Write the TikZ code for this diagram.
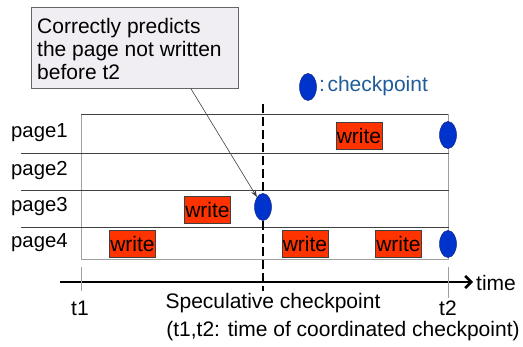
\documentclass[tikz,border=0pt]{standalone}
\usepackage{fontspec}
\setmainfont{Liberation Sans}
\usetikzlibrary{arrows.meta,shapes.geometric,calc}
\definecolor{cpblue}{HTML}{0033CC}
\definecolor{cpedge}{HTML}{1A2A80}
\definecolor{writered}{HTML}{FF3300}
\definecolor{legendblue}{HTML}{1F5C99}
\definecolor{notefill}{HTML}{F1EEF3}
\definecolor{rowline}{HTML}{404040}
\definecolor{frameline}{HTML}{A0A0A0}
\tikzset{
  txt/.style={font=\fontsize{21}{22.8}\selectfont, inner sep=0pt},
  writebox/.style={draw=rowline, line width=0.6pt, fill=writered, minimum width=46pt,
    minimum height=27pt, inner sep=0pt, font=\fontsize{21}{22.8}\selectfont},
  cpoint/.style={ellipse, draw=cpedge, line width=0.5pt, fill=cpblue,
    minimum width=17pt, minimum height=27pt, inner sep=0pt},
  sep/.style={draw=rowline, line width=0.8pt},
  frame/.style={draw=frameline, line width=1pt},
  pagelabel/.style={font=\fontsize{20.3}{22.8}\selectfont, inner sep=0pt, anchor=mid west},
}
\begin{document}
\begin{tikzpicture}[x=1pt,y=-1pt]
\useasboundingbox (0,0) rectangle (523,347);

% callout note
\node[draw=rowline!80, line width=0.6pt, fill=notefill, anchor=north west,
  minimum width=207pt, minimum height=81pt, inner sep=0pt] (note) at (31,7) {};
\node[txt, align=left, anchor=north west] (notetext) at (37,18)
  {Correctly predicts\\the page not written\\before t2};

% legend
\node[cpoint] (legcp) at (308,87) {};
\node[txt, anchor=west, text=legendblue] (legtext) at (319,86) {:\kern2.5pt checkpoint};

% frame of the page rows
\coordinate (tl) at (81,114);
\coordinate (tr) at (448,114);
\coordinate (bl) at (81,260);
\coordinate (br) at (448,260);
\draw[frame] (tl) -- (bl);
\draw[frame] (tr) -- (br);
\draw[frame] (bl) -- (br);
\draw[sep] (tl) -- (tr);
\coordinate (s1l) at (21,153); \coordinate (s1r) at (449,153);
\coordinate (s2l) at (21,190); \coordinate (s2r) at (449,190);
\coordinate (s3l) at (21,227); \coordinate (s3r) at (449,227);
\draw[sep] (s1l) -- (s1r);
\draw[sep] (s2l) -- (s2r);
\draw[sep] (s3l) -- (s3r);

% page labels
\node[pagelabel] (p1) at (11,135) {page1};
\node[pagelabel] (p2) at (11,173) {page2};
\node[pagelabel] (p3) at (11,209) {page3};
\node[pagelabel] (p4) at (11,245) {page4};

% speculative checkpoint line
\coordinate (spectop) at (263,104);
\coordinate (specbot) at (263,291);
\draw[line width=2pt, dash pattern=on 9pt off 4pt] (spectop) -- (specbot);

% time axis with ticks
\coordinate (axl) at (60,282);
\coordinate (axr) at (473,282);
\draw[line width=2.6pt, -{Straight Barb[length=6pt,width=12pt,line width=2.6pt]}] (axl) -- (axr);
\node[txt, anchor=west] (timelabel) at (476,283) {time};
\coordinate (t1top) at (81,267); \coordinate (t1bot) at (81,291);
\coordinate (t2top) at (448,267); \coordinate (t2bot) at (448,298);
\draw[frame] (t1top) -- (t1bot);
\draw[frame] (t2top) -- (t2bot);
\node[txt, anchor=base] (t1) at (80,316) {t1};
\node[txt, anchor=base] (t2) at (448,316) {t2};
\node[txt, anchor=base] (speclabel) at (273,309) {Speculative checkpoint};
\node[txt, anchor=base] (legendnote) at (343,337) {(t1,t2: time of coordinated checkpoint)};

% write operations
\node[writebox] (w1) at (359,135.5) {write};
\node[writebox] (w3) at (207.5,209.5) {write};
\node[writebox] (w4a) at (132.5,244) {write};
\node[writebox] (w4b) at (305,244) {write};
\node[writebox] (w4c) at (398.5,244) {write};

% checkpoints
\node[cpoint] (cp1) at (448,135) {};
\node[cpoint] (cp3) at (263,207) {};
\node[cpoint] (cp4) at (448,244) {};

% pointer from the note
\coordinate (notefoot) at ($(note.south west)!0.77!(note.south east)$);
\draw[draw=rowline, line width=0.6pt, -{Stealth[length=7pt,width=5pt]}] (notefoot) -- (cp3);
\end{tikzpicture}
\end{document}
